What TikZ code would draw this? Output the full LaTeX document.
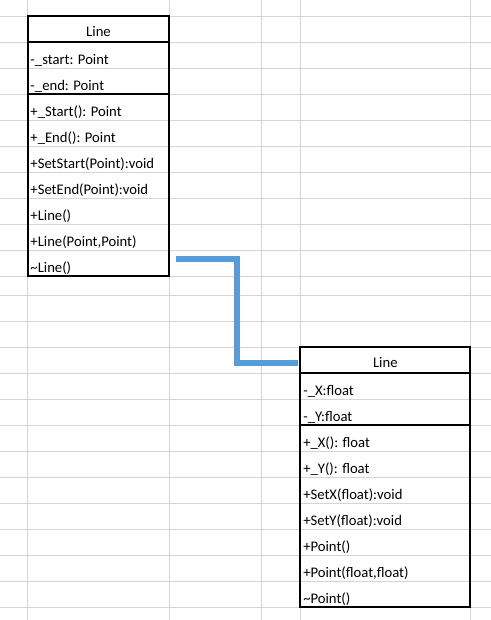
\documentclass[tikz,border=0pt]{standalone}
\usepackage{fontspec}
\setmainfont{Carlito}
\usetikzlibrary{calc,fit}
\definecolor{gridgray}{RGB}{212,212,212}
\definecolor{assocblue}{RGB}{91,155,213}

\begin{document}
\begin{tikzpicture}[x=0.75pt, y=-0.75pt,
  grid/.style={draw=gridgray, line width=0.75pt},
  classbox/.style={draw=black, line width=1.5pt, inner sep=0pt},
  classline/.style={black, line width=1.5pt},
  title/.style={anchor=base, inner sep=0pt, font=\fontsize{11pt}{13pt}\selectfont},
  member/.style={anchor=base west, inner sep=0pt, font=\fontsize{11pt}{13pt}\selectfont},
  assoc/.style={draw=assocblue, line width=4.3pt}]
\useasboundingbox (0,0) rectangle (491,620);
% Draw sheet grid
\foreach \y in {0,...,10}
    \draw[grid] (0,16.3+26*\y) -- (491,16.3+26*\y);
\foreach \y in {0,...,12}
    \draw[grid] (0,295.3+26*\y) -- (491,295.3+26*\y);
\foreach \x in {27.7,169.3,261.7,300.3,470.3}
    \draw[grid] (\x,0) -- (\x,620);
% Draw class boxes
\node[classbox, fit={(27.7,16.3) (169.3,276.3)}] (lineBox) {};
\node[classbox, fit={(300.3,347.3) (470.3,607.3)}] (pointBox) {};
\draw[classline] (lineBox.west |- 0,42.3) -- (lineBox.east |- 0,42.3);
\draw[classline] (lineBox.west |- 0,94.3) -- (lineBox.east |- 0,94.3);
\draw[classline] (pointBox.west |- 0,373.3) -- (pointBox.east |- 0,373.3);
\draw[classline] (pointBox.west |- 0,425.3) -- (pointBox.east |- 0,425.3);
% Draw class texts
\node[title] (lineTitle) at (lineBox.north |- 0,36.8) {Line};
\foreach \t [count=\i] in {-\_start: Point, -\_end: Point, +\_Start(): Point,
    +\_End(): Point, +SetStart(Point):void, +SetEnd(Point):void, +Line(),
    {+Line(Point,Point)}, \textasciitilde Line()}
    \node[member] (lineRow\i) at (30.2,38.8+26*\i) {\t};
\node[title] (pointTitle) at (pointBox.north |- 0,367.5) {Line};
\foreach \t [count=\i] in {-\_X:float, -\_Y:float, +\_X(): float, +\_Y(): float,
    +SetX(float):void, +SetY(float):void, +Point(), {+Point(float,float)},
    \textasciitilde Point()}
    \node[member] (pointRow\i) at (303,369.8+26*\i) {\t};
% Draw association
\coordinate (lineOut) at (176,259);
\coordinate (pointIn) at (297.7,362.7);
\draw[assoc] (lineOut) -| ($(lineOut)!0.5!(pointIn)$) |- (pointIn);
\end{tikzpicture}
\end{document}
